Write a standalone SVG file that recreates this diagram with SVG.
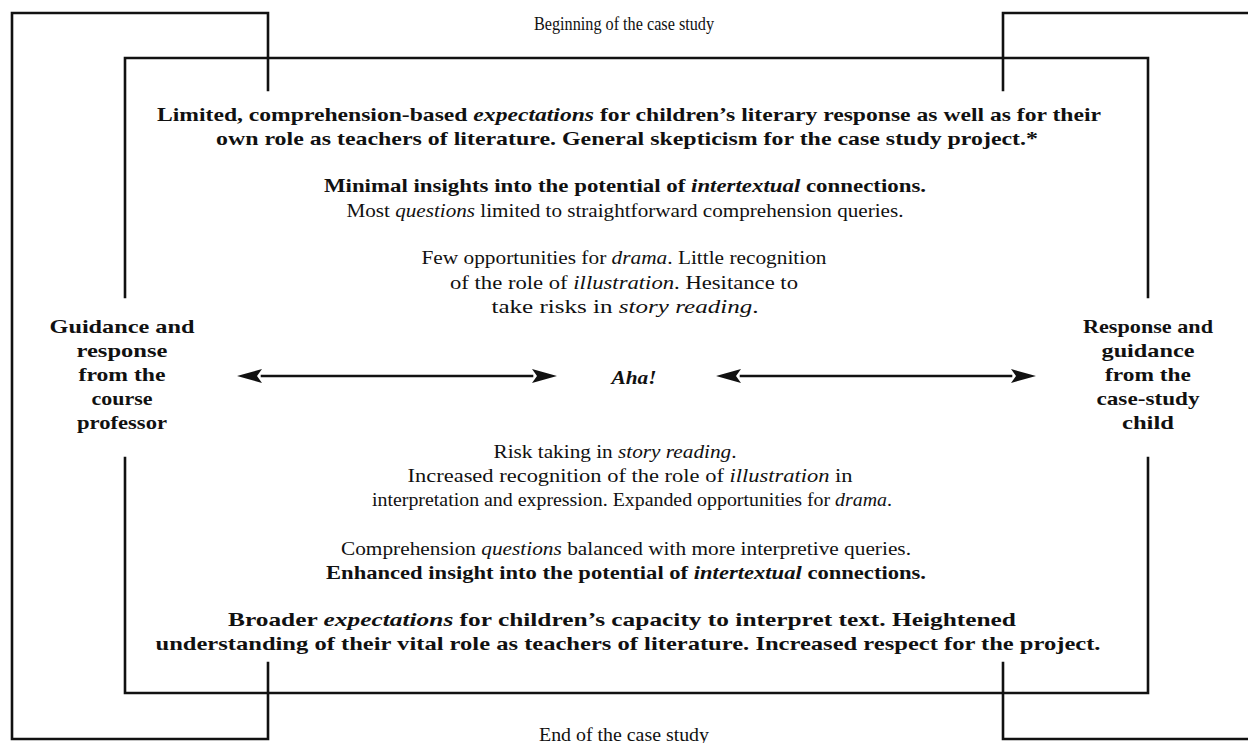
<svg xmlns="http://www.w3.org/2000/svg" width="1248" height="743" viewBox="0 0 1248 743">
<style>
.ln{fill:none;stroke:#111;stroke-width:2.6;stroke-linecap:square}
.t{font-family:"Liberation Serif","Times New Roman",serif;font-size:18px;fill:#111;text-anchor:middle}
.b{font-weight:bold;font-size:19px}
.i{font-style:italic}
.ah{fill:#111}
</style>
<rect width="1248" height="743" fill="#fff"/>
<g id="frames">
<path class="ln" d="M268,90 V13 H12 V739 H268 V663"/>
<path class="ln" d="M1003,90 V13 H1250"/>
<path class="ln" d="M1003,663 V739 H1250"/>
<path class="ln" d="M125,297 V58 H1148 V297"/>
<path class="ln" d="M125,458 V693 H1148 V458"/>
</g>
<g id="connectors">
<line class="ln" x1="262" y1="376" x2="532" y2="376" stroke-linecap="butt" stroke-width="2.8"/>
<path class="ah" d="M237,376 L262,369 L257,376 L262,383 Z"/>
<path class="ah" d="M557,376 L532,369 L537,376 L532,383 Z"/>
<line class="ln" x1="741" y1="376" x2="1011" y2="376" stroke-linecap="butt" stroke-width="2.8"/>
<path class="ah" d="M716,376 L741,369 L736,376 L741,383 Z"/>
<path class="ah" d="M1036,376 L1011,369 L1016,376 L1011,383 Z"/>
</g>
<g id="start"><text class="t" x="624" y="30" textLength="180" lengthAdjust="spacingAndGlyphs">Beginning of the case study</text></g>
<g id="end"><text class="t" x="624" y="741" textLength="170" lengthAdjust="spacingAndGlyphs">End of the case study</text></g>
<g id="before">
<text class="t b" x="629" y="121" textLength="944" lengthAdjust="spacingAndGlyphs">Limited, comprehension-based <tspan class="i">expectations</tspan> for children’s literary response as well as for their</text>
<text class="t b" x="627" y="145" textLength="822" lengthAdjust="spacingAndGlyphs">own role as teachers of literature. General skepticism for the case study project.*</text>
<text class="t b" x="625" y="192" textLength="602" lengthAdjust="spacingAndGlyphs">Minimal insights into the potential of <tspan class="i">intertextual</tspan> connections.</text>
<text class="t" x="625" y="217" textLength="557" lengthAdjust="spacingAndGlyphs">Most <tspan class="i">questions</tspan> limited to straightforward comprehension queries.</text>
<text class="t" x="624" y="264" textLength="405" lengthAdjust="spacingAndGlyphs">Few opportunities for <tspan class="i">drama</tspan>. Little recognition</text>
<text class="t" x="624" y="289" textLength="348" lengthAdjust="spacingAndGlyphs">of the role of <tspan class="i">illustration</tspan>. Hesitance to</text>
<text class="t" x="625" y="313" textLength="267" lengthAdjust="spacingAndGlyphs">take risks in <tspan class="i">story reading</tspan>.</text>
</g>
<g id="professor">
<text class="t b" x="122" y="333" textLength="145" lengthAdjust="spacingAndGlyphs">Guidance and</text>
<text class="t b" x="122" y="357" textLength="91" lengthAdjust="spacingAndGlyphs">response</text>
<text class="t b" x="122" y="381" textLength="87" lengthAdjust="spacingAndGlyphs">from the</text>
<text class="t b" x="122" y="405" textLength="61" lengthAdjust="spacingAndGlyphs">course</text>
<text class="t b" x="122" y="429" textLength="90" lengthAdjust="spacingAndGlyphs">professor</text>
</g>
<g id="child">
<text class="t b" x="1148" y="333" textLength="130" lengthAdjust="spacingAndGlyphs">Response and</text>
<text class="t b" x="1148" y="357" textLength="93" lengthAdjust="spacingAndGlyphs">guidance</text>
<text class="t b" x="1148" y="381" textLength="86" lengthAdjust="spacingAndGlyphs">from the</text>
<text class="t b" x="1148" y="405" textLength="103" lengthAdjust="spacingAndGlyphs">case-study</text>
<text class="t b" x="1148" y="429" textLength="52" lengthAdjust="spacingAndGlyphs">child</text>
</g>
<g id="aha"><text class="t b i" x="634" y="384" textLength="45" lengthAdjust="spacingAndGlyphs">Aha!</text></g>
<g id="after">
<text class="t" x="615" y="458" textLength="243" lengthAdjust="spacingAndGlyphs">Risk taking in <tspan class="i">story reading</tspan>.</text>
<text class="t" x="630" y="482" textLength="445" lengthAdjust="spacingAndGlyphs">Increased recognition of the role of <tspan class="i">illustration</tspan> in</text>
<text class="t" x="632" y="506" textLength="520" lengthAdjust="spacingAndGlyphs">interpretation and expression. Expanded opportunities for <tspan class="i">drama</tspan>.</text>
<text class="t" x="626" y="555" textLength="570" lengthAdjust="spacingAndGlyphs">Comprehension <tspan class="i">questions</tspan> balanced with more interpretive queries.</text>
<text class="t b" x="626" y="579" textLength="600" lengthAdjust="spacingAndGlyphs">Enhanced insight into the potential of <tspan class="i">intertextual</tspan> connections.</text>
<text class="t b" x="622" y="626" textLength="788" lengthAdjust="spacingAndGlyphs">Broader <tspan class="i">expectations</tspan> for children’s capacity to interpret text. Heightened</text>
<text class="t b" x="628" y="650" textLength="945" lengthAdjust="spacingAndGlyphs">understanding of their vital role as teachers of literature. Increased respect for the project.</text>
</g>
</svg>
